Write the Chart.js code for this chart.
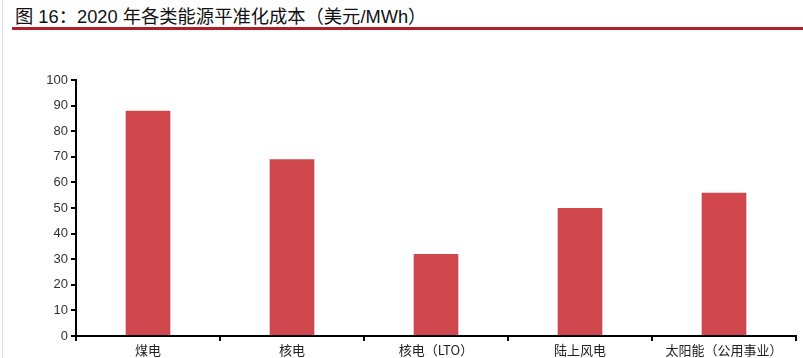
<!DOCTYPE html>
<html>
<head>
<meta charset="utf-8">
<script src="https://cdn.jsdelivr.net/npm/chart.js@4"></script>
<style>
  html, body { margin: 0; padding: 0; background: #fff; }
  #wrap { position: relative; width: 803px; height: 358px; overflow: hidden; }
  #title { position: absolute; left: 15px; top: 2px; font: 18.3px "Liberation Sans", "Noto Sans CJK SC", sans-serif; color: #111; white-space: nowrap; }
  #rule { position: absolute; left: 12px; top: 27px; width: 791px; height: 3px; background: #b11f24; }
  #vline { position: absolute; left: 2px; top: 0; width: 1px; height: 358px; background: #ddd; }
  canvas { position: absolute; left: 0; top: 0; }
</style>
</head>
<body>
<div id="wrap">
  <div id="vline"></div>
  <div id="title">图 16：2020 年各类能源平准化成本（美元/MWh）</div>
  <div id="rule"></div>
  <canvas id="c" width="803" height="358"></canvas>
</div>
<script>
const categories = ["煤电", "核电", "核电（LTO）", "陆上风电", "太阳能（公用事业）"];
const costValues = [88, 69, 32, 50, 56];
const yTicks = [0, 10, 20, 30, 40, 50, 60, 70, 80, 90, 100];

const ctx = document.getElementById('c').getContext('2d');
new Chart(ctx, {
  type: 'bar',
  data: {
    labels: categories,
    datasets: [{
      data: costValues,
      backgroundColor: '#d0474d',
      borderWidth: 0,
      barPercentage: 0.62,
      categoryPercentage: 0.5
    }]
  },
  options: {
    responsive: false,
    animation: false,
    layout: { padding: { top: 80, right: 7, bottom: 0, left: 10 } },
    plugins: { legend: { display: false }, tooltip: { enabled: false }, title: { display: false } },
    scales: {
      x: {
        offset: true,
        grid: { display: true, drawOnChartArea: false, offset: true, tickLength: 5, color: '#000', lineWidth: 2 },
        border: { display: true, color: '#000', width: 2 },
        ticks: { color: '#222', font: { size: 13, family: '"Noto Sans CJK SC", sans-serif' }, padding: 1, maxRotation: 0 },
        afterFit: s => { s.height = 22; }
      },
      y: {
        min: 0, max: 100,
        afterBuildTicks: s => { s.ticks = yTicks.map(v => ({ value: v })); },
        grid: { display: true, drawOnChartArea: false, tickLength: 5, color: '#000', lineWidth: 2 },
        border: { display: true, color: '#000', width: 2 },
        ticks: { color: '#333', font: { size: 13, family: '"Liberation Sans", Arial, sans-serif' }, padding: 3 },
        afterFit: s => { s.width = 66; }
      }
    }
  }
});
</script>
</body>
</html>
